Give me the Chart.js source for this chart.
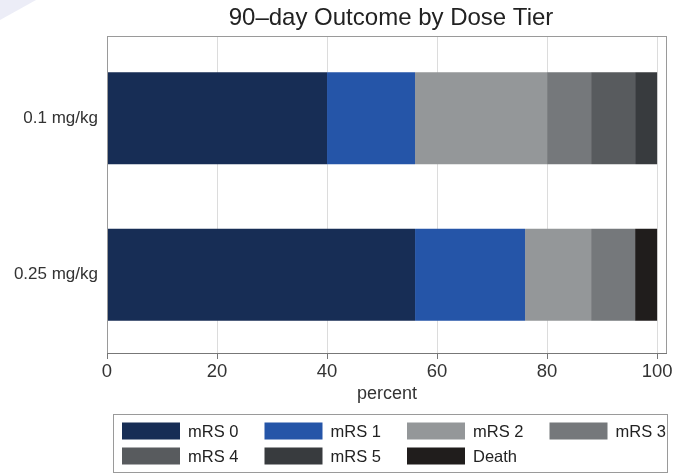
<!DOCTYPE html>
<html>
<head>
<meta charset="utf-8">
<script src="https://cdn.jsdelivr.net/npm/chart.js@4"></script>
<style>
  body { margin: 0; background: #fff; }
  #wrap { width: 675px; height: 474px; }
</style>
</head>
<body>
<div id="wrap"><canvas id="myChart" width="675" height="474"></canvas></div>
<script>
var doseTiers = ["0.1 mg/kg", "0.25 mg/kg"];
var outcomeLabels = ["mRS 0", "mRS 1", "mRS 2", "mRS 3", "mRS 4", "mRS 5", "Death"];
var outcomeColors = ["#172d55", "#2555a8", "#949799", "#75787b", "#585b5e", "#383b3e", "#201d1c"];
var mrs0 = [40, 56];
var mrs1 = [16, 20];
var mrs2 = [24, 12];
var mrs3 = [8, 8];
var mrs4 = [8, 0];
var mrs5 = [4, 0];
var death = [0, 4];
var xTicks = [0, 20, 40, 60, 80, 100];
var chartTitle = "90\u2013day Outcome by Dose Tier";

var seriesValues = [mrs0, mrs1, mrs2, mrs3, mrs4, mrs5, death];
var FONT = "'Liberation Sans', Arial, Helvetica, sans-serif";
var FRAME_TOP = 36;

// background tint, title, plot frame and the boxed legend
var decor = {
  id: "decor",
  beforeDraw: chart => {
    var ctx = chart.ctx;
    ctx.save();
    ctx.fillStyle = "#ffffff";
    ctx.fillRect(0, 0, chart.width, chart.height);
    ctx.fillStyle = "#ecedf7";
    ctx.beginPath();
    ctx.moveTo(0, 0); ctx.lineTo(36, 0); ctx.lineTo(0, 20); ctx.closePath();
    ctx.fill();
    ctx.restore();
  },
  afterDatasetsDraw: chart => {
    // carry the grid lines up to the frame top
    var ctx = chart.ctx;
    var a = chart.chartArea;
    var x = chart.scales.x;
    ctx.save();
    ctx.strokeStyle = "#dcdcdc";
    ctx.lineWidth = 1;
    x.ticks.forEach(t => {
      var px = Math.round(x.getPixelForValue(t.value)) + 0.5;
      ctx.beginPath();
      ctx.moveTo(px, FRAME_TOP); ctx.lineTo(px, a.top);
      ctx.stroke();
    });
    ctx.restore();
  },
  afterDraw: chart => {
    var ctx = chart.ctx;
    var a = chart.chartArea;
    ctx.save();
    // frame
    ctx.strokeStyle = "#9a9a9a";
    ctx.lineWidth = 1;
    ctx.strokeRect(a.left + 0.5, FRAME_TOP + 0.5, a.right - a.left - 1, a.bottom - FRAME_TOP);
    ctx.strokeStyle = "#777";
    ctx.beginPath();
    ctx.moveTo(a.left, a.bottom + 0.5); ctx.lineTo(a.right, a.bottom + 0.5);
    ctx.stroke();
    // title
    ctx.fillStyle = "#222";
    ctx.font = "24px " + FONT;
    ctx.textAlign = "center";
    ctx.textBaseline = "middle";
    ctx.fillText(chartTitle, (a.left + a.right) / 2 + 4, 18);
    // legend
    ctx.fillStyle = "#fff";
    ctx.fillRect(113.5, 414.5, 554, 58);
    ctx.strokeStyle = "#9a9a9a";
    ctx.strokeRect(113.5, 414.5, 554, 58);
    ctx.font = "16.5px " + FONT;
    ctx.textAlign = "left";
    chart.data.datasets.forEach((ds, i) => {
      var col = i % 4, row = Math.floor(i / 4);
      var bx = 122 + col * 142.5;
      var by = 431 + row * 25;
      ctx.fillStyle = ds.backgroundColor;
      ctx.fillRect(bx, by - 8.5, 58, 17);
      ctx.fillStyle = "#222";
      ctx.fillText(ds.label, bx + 66, by + 1);
    });
    ctx.restore();
  }
};

var datasets = outcomeLabels.map((label, i) => ({
  label: label,
  data: seriesValues[i],
  backgroundColor: outcomeColors[i],
  borderWidth: 0,
  barPercentage: 0.588,
  categoryPercentage: 1
}));

new Chart(document.getElementById("myChart"), {
  type: "bar",
  data: { labels: doseTiers, datasets: datasets },
  options: {
    indexAxis: "y",
    responsive: false,
    animation: false,
    layout: { padding: { left: 0, top: 40, right: 8, bottom: 69 } },
    plugins: {
      legend: { display: false },
      title: { display: false },
      tooltip: { enabled: false }
    },
    scales: {
      x: {
        stacked: true,
        min: 0,
        max: 101.8,
        afterBuildTicks: scale => { scale.ticks = xTicks.map(v => ({ value: v })); },
        afterFit: scale => { scale.height = 52; },
        border: { display: false },
        grid: {
          color: "#dcdcdc",
          tickColor: "#777",
          tickLength: 6,
          drawTicks: true
        },
        ticks: {
          color: "#333",
          padding: 2,
          font: { family: FONT, size: 18.5 }
        },
        title: {
          display: true,
          text: "percent",
          color: "#333",
          padding: { top: 0, bottom: 0 },
          font: { family: FONT, size: 18 }
        }
      },
      y: {
        stacked: true,
        afterFit: scale => { scale.width = 107; },
        border: { display: false },
        grid: { display: false, drawTicks: false },
        ticks: {
          color: "#333",
          padding: 9,
          font: { family: FONT, size: 17 }
        }
      }
    }
  },
  plugins: [decor]
});
</script>
</body>
</html>
